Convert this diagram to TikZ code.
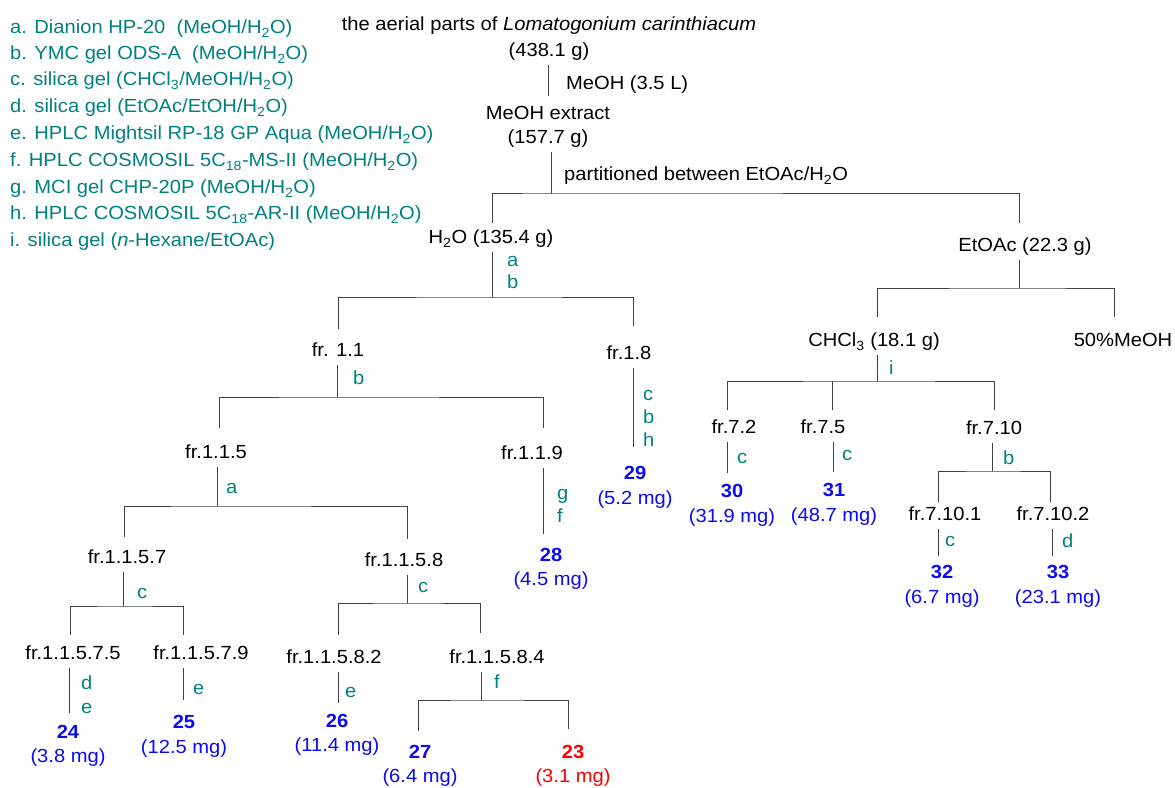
\documentclass[tikz,border=0pt]{standalone}
\usepackage{fontspec}
\setmainfont{Liberation Sans}[FakeStretch=1.06]
\usepackage{xcolor}
\usepackage{tikz}
\definecolor{stepcol}{RGB}{0,128,128}
\definecolor{cpdblue}{RGB}{10,10,245}
\definecolor{cpdred}{RGB}{250,0,0}

\begin{document}
\begin{tikzpicture}[x=1pt, y=-1pt,
    every node/.style={font=\fontsize{19}{22}\selectfont},
    ln/.style={draw=black!75, line width=0.8pt},
    frac/.style={inner sep=4pt, text height=13.5pt, text depth=4pt},
    stp/.style={text=stepcol, anchor=west, inner sep=0pt, align=left, font=\fontsize{19}{22.5}\selectfont},
    cmpd/.style={text=cpdblue, align=center, inner sep=0pt, font=\fontsize{19}{24.5}\selectfont},
    leg/.style={text=stepcol, anchor=west, inner sep=0pt}]
    \useasboundingbox (0,0) rectangle (1175,787);

    % legend of the separation steps
    \node[leg] (la) at (10,29) {a. Dianion HP-20\ \ (MeOH/H\textsubscript{2}O)};
    \node[leg] (lb) at (10,55) {b. YMC gel ODS-A\ \ (MeOH/H\textsubscript{2}O)};
    \node[leg] (lc) at (10,81) {c. silica gel (CHCl\textsubscript{3}/MeOH/H\textsubscript{2}O)};
    \node[leg] (ld) at (10,108) {d. silica gel (EtOAc/EtOH/H\textsubscript{2}O)};
    \node[leg] (le) at (10,135) {e. HPLC Mightsil RP-18 GP Aqua (MeOH/H\textsubscript{2}O)};
    \node[leg] (lf) at (10,162) {f. HPLC COSMOSIL 5C\textsubscript{18}-MS-II (MeOH/H\textsubscript{2}O)};
    \node[leg] (lg) at (10,189) {g. MCI gel CHP-20P (MeOH/H\textsubscript{2}O)};
    \node[leg] (lh) at (10,215) {h. HPLC COSMOSIL 5C\textsubscript{18}-AR-II (MeOH/H\textsubscript{2}O)};
    \node[leg] (li) at (10,242) {i. silica gel (\textit{n}-Hexane/EtOAc)};

    % extraction and partition
    \node[align=center, inner sep=4pt, font=\fontsize{19}{26}\selectfont] (aer) at (549,39)
        {the aerial parts of \textit{Lomatogonium carinthiacum}\\(438.1 g)};
    \node[align=center, inner sep=4pt, font=\fontsize{19}{24}\selectfont] (ext) at (548,127) {MeOH extract\\(157.7 g)};
    \node[anchor=west, inner sep=0pt] (meoh) at (566,85) {MeOH (3.5 L)};
    \node[anchor=west, inner sep=0pt] (part) at (564,176) {partitioned between EtOAc/H\textsubscript{2}O};
    \node[frac] (h2o) at (491,239) {H\textsubscript{2}O (135.4 g)};
    \node[frac] (etoac) at (1025,247) {EtOAc (22.3 g)};
    \node[frac] (chcl) at (874,342) {CHCl\textsubscript{3} (18.1 g)};
    \node[frac] (me50) at (1123,342) {50\%MeOH};

    % fractions
    \node[frac] (n11) at (338,352) {fr. 1.1};
    \node[frac] (n18) at (629,355) {fr.1.8};
    \node[frac] (n115) at (216,454) {fr.1.1.5};
    \node[frac] (n119) at (532,455) {fr.1.1.9};
    \node[frac] (n1157) at (127,559) {fr.1.1.5.7};
    \node[frac] (n1158) at (404,562) {fr.1.1.5.8};
    \node[frac] (n11575) at (73,655) {fr.1.1.5.7.5};
    \node[frac] (n11579) at (201,655) {fr.1.1.5.7.9};
    \node[frac] (n11582) at (334,659) {fr.1.1.5.8.2};
    \node[frac] (n11584) at (497,659) {fr.1.1.5.8.4};
    \node[frac] (n72) at (734,429) {fr.7.2};
    \node[frac] (n75) at (823,429) {fr.7.5};
    \node[frac] (n710) at (994,430) {fr.7.10};
    \node[frac] (n7101) at (945,516) {fr.7.10.1};
    \node[frac] (n7102) at (1053,516) {fr.7.10.2};

    % isolated compounds
    \node[cmpd] (c29) at (635,487.5) {\textbf{29}\\(5.2 mg)};
    \node[cmpd] (c28) at (551,569) {\textbf{28}\\(4.5 mg)};
    \node[cmpd] (c24) at (68,746) {\textbf{24}\\(3.8 mg)};
    \node[cmpd] (c25) at (184,736.5) {\textbf{25}\\(12.5 mg)};
    \node[cmpd] (c26) at (337,735) {\textbf{26}\\(11.4 mg)};
    \node[cmpd] (c27) at (420,766) {\textbf{27}\\(6.4 mg)};
    \node[cmpd, text=cpdred] (c23) at (573,766) {\textbf{23}\\(3.1 mg)};
    \node[cmpd] (c30) at (732,505.5) {\textbf{30}\\(31.9 mg)};
    \node[cmpd] (c31) at (834,504.5) {\textbf{31}\\(48.7 mg)};
    \node[cmpd] (c32) at (942,586.5) {\textbf{32}\\(6.7 mg)};
    \node[cmpd] (c33) at (1058,586.5) {\textbf{33}\\(23.1 mg)};

    % step letters
    \node[stp] (sab) at (507,272.5) {a\\b};
    \node[stp] (sb1) at (353,378) {b};
    \node[stp, font=\fontsize{19}{23}\selectfont] (scbh) at (643,418) {c\\b\\h};
    \node[stp] (sgf) at (557,506) {g\\f};
    \node[stp] (sa2) at (226,488) {a};
    \node[stp] (sc1) at (137,593) {c};
    \node[stp] (sc2) at (418,587) {c};
    \node[stp, font=\fontsize{19}{24}\selectfont] (sde) at (81,695) {d\\e};
    \node[stp] (se1) at (193,689) {e};
    \node[stp] (se2) at (345,692) {e};
    \node[stp] (sf) at (494,682) {f};
    \node[stp] (si) at (889,368) {i};
    \node[stp] (sc3) at (737,458) {c};
    \node[stp] (sc4) at (842,455) {c};
    \node[stp] (sb2) at (1003,458) {b};
    \node[stp] (sc5) at (945,541) {c};
    \node[stp] (sd) at (1062,541) {d};

    % junctions and line ends
    \coordinate (text) at (548,96);
    \coordinate (jA) at (551,193);
    \coordinate (th2o) at (492,223);
    \coordinate (tet) at (1019,223);
    \coordinate (jB) at (492,297);
    \coordinate (t11) at (338,329);
    \coordinate (t18) at (633,326);
    \coordinate (jC) at (1019,288);
    \coordinate (tchcl) at (877,317);
    \coordinate (tme50) at (1114,317);
    \coordinate (jD) at (337,397);
    \coordinate (t115) at (219,428);
    \coordinate (t119) at (543,428);
    \coordinate (t29) at (633,447);
    \coordinate (t28) at (543,534);
    \coordinate (jE) at (217,506);
    \coordinate (t1157) at (124,537);
    \coordinate (t1158) at (407,539);
    \coordinate (jF) at (123,606);
    \coordinate (t11575) at (70,635);
    \coordinate (t11579) at (183,635);
    \coordinate (jG) at (407,603);
    \coordinate (t11582) at (338,635);
    \coordinate (t11584) at (480,633);
    \coordinate (t24) at (69,713);
    \coordinate (t25) at (183,700);
    \coordinate (t26) at (338,703);
    \coordinate (jH) at (481,700);
    \coordinate (t27) at (418,731);
    \coordinate (t23) at (568,729);
    \coordinate (jI) at (877,381);
    \coordinate (t72) at (727,410);
    \coordinate (t75) at (832,410);
    \coordinate (t710) at (994,410);
    \coordinate (t30) at (727,473);
    \coordinate (t31) at (833,472);
    \coordinate (jJ) at (992,471);
    \coordinate (t7101) at (938,502);
    \coordinate (t7102) at (1050,502);
    \coordinate (t32) at (938,556);
    \coordinate (t33) at (1052,556);

    % connectors
    \draw[ln] (text |- aer.south) -- (text);
    \draw[ln] (jA |- ext.south) -- (jA);
    \draw[ln] (th2o) |- (jA) -| (tet);
    \draw[ln] (jB |- h2o.south) -- (jB);
    \draw[ln] (t11) |- (jB) -| (t18);
    \draw[ln] (jC |- etoac.south) -- (jC);
    \draw[ln] (tchcl) |- (jC) -| (tme50);
    \draw[ln] (jD |- n11.south) -- (jD);
    \draw[ln] (t115) |- (jD) -| (t119);
    \draw[ln] (t29 |- n18.south) -- (t29);
    \draw[ln] (t28 |- n119.south) -- (t28);
    \draw[ln] (jE |- n115.south) -- (jE);
    \draw[ln] (t1157) |- (jE) -| (t1158);
    \draw[ln] (jF |- n1157.south) -- (jF);
    \draw[ln] (t11575) |- (jF) -| (t11579);
    \draw[ln] (jG |- n1158.south) -- (jG);
    \draw[ln] (t11582) |- (jG) -| (t11584);
    \draw[ln] (t24 |- n11575.south) -- (t24);
    \draw[ln] (t25 |- n11579.south) -- (t25);
    \draw[ln] (t26 |- n11582.south) -- (t26);
    \draw[ln] (jH |- n11584.south) -- (jH);
    \draw[ln] (t27) |- (jH) -| (t23);
    \draw[ln] (jI |- chcl.south) -- (jI);
    \draw[ln] (t72) |- (jI) -| (t710);
    \draw[ln] (t75) -- (t75 |- jI);
    \draw[ln] (t30 |- n72.south) -- (t30);
    \draw[ln] (t31 |- n75.south) -- (t31);
    \draw[ln] (jJ |- n710.south) -- (jJ);
    \draw[ln] (t7101) |- (jJ) -| (t7102);
    \draw[ln] (t32 |- n7101.south) -- (t32);
    \draw[ln] (t33 |- n7102.south) -- (t33);
\end{tikzpicture}
\end{document}
